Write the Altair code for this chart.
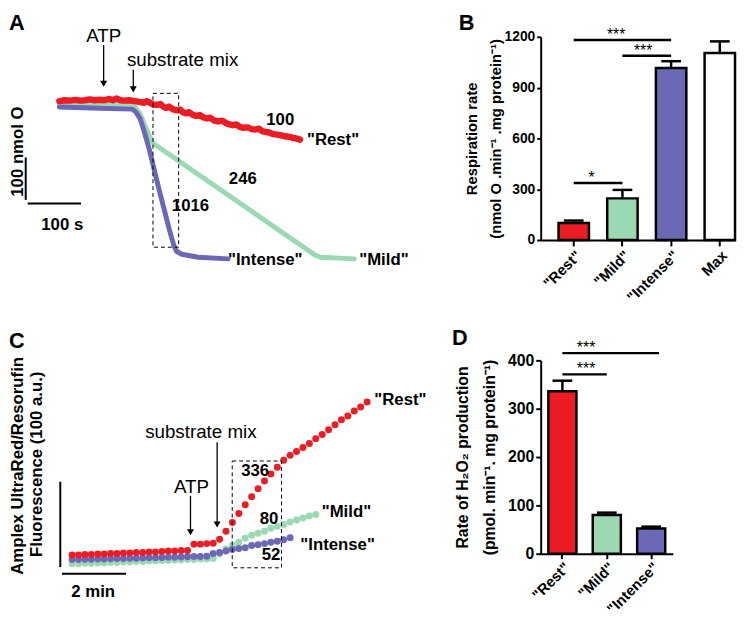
import altair as alt
import pandas as pd

FONT = "Liberation Sans"
RED = "#EC1C24"
GREEN = "#9AD9B2"
PURPLE = "#6B68B5"

# ---------------- Panel A: oxygen consumption traces (time s, O nmol) ----------------
a_rest_t = [0, 10, 20, 30, 39, 48, 57, 66, 76, 85, 94, 101, 107, 115, 122, 131, 141, 150, 159, 164,
            169, 176, 183, 190, 196, 201, 206, 213, 220, 227, 233, 238, 243, 250, 257, 264, 270, 277,
            283, 291, 298, 306, 313, 320, 326, 332, 339, 346, 354, 361, 369, 375, 381, 388, 394, 402,
            409, 417, 424, 430, 437, 444, 452]
a_rest_v = [398, 400, 399, 401, 399, 400, 402, 400, 401, 400, 403, 400, 404, 400, 399, 400, 398, 396,
            394, 398, 395, 390, 389, 391, 384, 382, 385, 379, 376, 378, 371, 369, 372, 366, 363, 365,
            360, 357, 359, 352, 350, 352, 346, 343, 341, 343, 337, 335, 336, 332, 331, 333, 327, 325,
            324, 320, 319, 317, 315, 314, 312, 310, 307]
a_mild_t = [0, 137, 144, 152, 161, 172, 178, 480, 491, 554]
a_mild_v = [393, 390, 381, 367, 340, 307, 297, 35, 30, 26]
a_int_t = [0, 76, 137, 144, 152, 159, 169, 187, 206, 215, 220, 230, 261, 317]
a_int_v = [384, 381, 379, 372, 356, 328, 284, 191, 98, 58, 44, 37, 30, 26]

# annotations of panel A (in data units)
a_lbl_text = ["100", "246", "1016"]
a_lbl_t = [414.8, 344.5, 246.3]
a_lbl_v = [341.9, 202.3, 139.5]
a_name_text = ['"Rest"', '"Intense"', '"Mild"']
a_name_t = [464.9, 316.7, 563.0]
a_name_v = [295.3, 11.6, 11.6]
a_evt_text = ["ATP", "substrate mix"]
a_evt_t = [83.3, 231.5]
a_evt_v = [537.2, 481.4]
a_arrow_t = [83.3, 138.9]
a_arrow_top = [530.2, 472.1]
a_arrow_bot = [437.2, 423.3]
a_head_v = [439.0, 425.6]
a_box = dict(t=175.9, t2=224.1, v=416.3, v2=53.5)
a_bar_t = [-63.0, -59.3]
a_bar_t2 = [-63.0, 40.7]
a_bar_v = [265.1, 156.5]
a_bar_v2 = [165.1, 156.5]

# ---------------- Panel B: respiration rate ----------------
b_cats = ['"Rest"', '"Mild"', '"Intense"', "Max"]
b_vals = [100, 246, 1016, 1105]
b_errs = [15, 50, 40, 68]
b_fill = [RED, GREEN, PURPLE, "#FFFFFF"]
b_sig_from = ['"Rest"', '"Mild"', '"Rest"']
b_sig_to = ['"Intense"', '"Intense"', '"Mild"']
b_sig_y = [1181, 1088, 337]
b_sig_lab = ["***", "***", "*"]

# ---------------- Panel C: Amplex UltraRed fluorescence (min, a.u.) ----------------
c_dt = 0.2
c_rest = [20.8, 20.8, 21.4, 21.4, 21.9, 21.9, 22.5, 22.5, 23.1, 23.1, 23.7, 23.7, 24.2, 24.2, 24.8,
          25.4, 25.4, 26.0, 26.0, 33.5, 33.5, 34.1, 34.6, 39.3, 48.5, 58.9, 69.3, 79.7, 88.9, 98.2,
          107.4, 115.5, 123.6, 131.6, 137.4, 142.0, 146.7, 151.3, 157.0, 161.7, 167.4, 173.2, 179.0,
          183.6, 189.4, 194.0, 199.8]
c_mild = [10.4, 10.4, 11.0, 11.0, 11.5, 11.5, 12.1, 12.1, 12.7, 12.7, 13.3, 13.3, 13.9, 13.9, 14.4,
          14.4, 15.0, 15.0, 15.6, 15.6, 16.2, 16.2, 16.7, 21.9, 27.7, 32.3, 35.8, 40.4, 43.9, 46.2,
          48.5, 52.0, 54.3, 56.6, 59.5, 61.8, 64.1, 66.4, 68.1]
c_int = [15.6, 15.6, 15.8, 15.9, 16.2, 16.2, 16.4, 16.6, 16.7, 17.0, 17.1, 17.3, 17.6, 17.7, 17.9,
         18.1, 18.2, 18.5, 18.7, 18.9, 19.1, 19.3, 22.5, 23.7, 25.4, 27.1, 28.3, 29.4, 31.8, 32.9,
         34.1, 35.8, 37.0, 38.7, 41.0]
c_lbl_text = ["336", "80", "52"]
c_lbl_t = [5.708, 6.144, 6.206]
c_lbl_v = [113.5, 56.9, 15.4]
c_name_text = ['"Rest"', '"Mild"', '"Intense"']
c_name_t = [9.425, 7.785, 7.117]
c_name_v = [196.3, 65.5, 26.9]
c_evt_text = ["ATP", "substrate mix"]
c_evt_t = [3.723, 4.015]
c_evt_v = [93.5, 158.2]
c_arrow_t = [3.692, 4.523]
c_arrow_top = [90.1, 152.8]
c_arrow_bot = [48.5, 57.0]
c_head_v = [47.3, 56.6]
c_box = dict(t=4.994, t2=6.532, v=130.8, v2=5.8)
c_bar_t = [-0.369, -0.317]
c_bar_t2 = [-0.369, 1.683]
c_bar_v = [106.6, -1.15]
c_bar_v2 = [6.6, -1.15]
c_title = ["Amplex UltraRed/Resorufin", "Fluorescence (100 a.u.)"]
c_title_t = [-1.68, -1.10]
c_title_v = [125.1, 127.0]

# ---------------- Panel D: H2O2 production ----------------
d_cats = ['"Rest"', '"Mild"', '"Intense"']
d_vals = [336, 80, 52]
d_errs = [22, 5, 4]
d_fill = [RED, GREEN, PURPLE]
d_sig_from = ['"Rest"', '"Rest"']
d_sig_to = ['"Intense"', '"Mild"']
d_sig_y = [415, 371]
d_sig_lab = ["***", "***"]


# ======================= helpers =======================
def tx(df, sx, sy, **kw):
    return alt.Chart(df).mark_text(color="black", **kw).encode(
        x=alt.X("t:Q", scale=sx, axis=None), y=alt.Y("v:Q", scale=sy, axis=None), text="label:N")


def rules(df, sx, sy, w):
    return alt.Chart(df).mark_rule(color="black", strokeWidth=w).encode(
        x=alt.X("t:Q", scale=sx, axis=None), x2="t2:Q",
        y=alt.Y("v:Q", scale=sy, axis=None), y2="v2:Q")


def heads(df, sx, sy):
    return alt.Chart(df).mark_point(shape="triangle-down", filled=True, color="black",
                                    opacity=1, size=50).encode(
        x=alt.X("t:Q", scale=sx, axis=None), y=alt.Y("v:Q", scale=sy, axis=None))


def box(d, sx, sy):
    return alt.Chart(pd.DataFrame([d])).mark_rect(fillOpacity=0, stroke="black", strokeWidth=1,
                                                  strokeDash=[4, 3]).encode(
        x=alt.X("t:Q", scale=sx, axis=None), x2="t2:Q",
        y=alt.Y("v:Q", scale=sy, axis=None), y2="v2:Q")


# ======================= Panel A =======================
sxA = alt.Scale(domain=[-94.4, 600], nice=False, zero=False)
syA = alt.Scale(domain=[70.5, 549.5], nice=False, zero=False)


def lineA(t, v, color, w):
    return alt.Chart(pd.DataFrame({"t": t, "v": v})).mark_line(
        color=color, strokeWidth=w, strokeJoin="round", strokeCap="round").encode(
        x=alt.X("t:Q", scale=sxA, axis=None), y=alt.Y("v:Q", scale=syA, axis=None))


A = alt.layer(
    lineA(a_mild_t, a_mild_v, GREEN, 5),
    lineA(a_int_t, a_int_v, PURPLE, 5),
    lineA(a_rest_t, a_rest_v, RED, 6.5),
    box(a_box, sxA, syA),
    rules(pd.DataFrame({"t": a_arrow_t, "t2": a_arrow_t, "v": a_arrow_top, "v2": a_arrow_bot}), sxA, syA, 1.3),
    heads(pd.DataFrame({"t": a_arrow_t, "v": a_head_v}), sxA, syA),
    rules(pd.DataFrame({"t": a_bar_t, "t2": a_bar_t2, "v": a_bar_v, "v2": a_bar_v2}), sxA, syA, 2),
    tx(pd.DataFrame({"t": a_evt_t, "v": a_evt_v, "label": a_evt_text}), sxA, syA,
       fontSize=19, align="center", baseline="alphabetic"),
    tx(pd.DataFrame({"t": a_lbl_t, "v": a_lbl_v, "label": a_lbl_text}), sxA, syA,
       fontSize=17, fontWeight="bold", align="center", baseline="alphabetic"),
    tx(pd.DataFrame({"t": a_name_t, "v": a_name_v, "label": a_name_text}), sxA, syA,
       fontSize=17, fontWeight="bold", align="left", baseline="alphabetic"),
    tx(pd.DataFrame({"t": [5.6], "v": [93.0], "label": ["100 s"]}), sxA, syA,
       fontSize=17, fontWeight="bold", align="center", baseline="alphabetic"),
    tx(pd.DataFrame({"t": [-77.8], "v": [279.0], "label": ["100 nmol O"]}), sxA, syA,
       fontSize=17, fontWeight="bold", align="center", baseline="middle", angle=270),
    tx(pd.DataFrame({"t": [-94.4], "v": [604.7], "label": ["A"]}), sxA, syA,
       fontSize=22, fontWeight="bold", align="left", baseline="top"),
).properties(width=375, height=206)


# ======================= bar panels =======================
def y_axis(title, values, lsize, tsize, tpad, tlh, tick):
    return alt.Axis(title=title, values=values, format="d", grid=False, domainColor="black",
                    domainWidth=2, tickColor="black", tickWidth=2, tickSize=tick,
                    labelFontSize=lsize, labelFontWeight="bold", labelColor="black",
                    labelPadding=2, titleFontSize=tsize, titleFontWeight="bold",
                    titleColor="black", titlePadding=tpad, titleLineHeight=tlh)


def x_axis(lsize, lpad, tick):
    return alt.Axis(title="", labelAngle=-45, labelFontSize=lsize, labelFontWeight="bold",
                    labelColor="black", domainColor="black", domainWidth=2, tickColor="black",
                    tickWidth=2, tickSize=tick, labelPadding=lpad)


def bar_panel(cats, vals, errs, fills, sig_from, sig_to, sig_y, sig_lab, sig_dx, sig_x2off,
              xscale, ydomain, yax, xax, letter, letter_y, letter_x, w, h):
    sx = xscale
    sy = alt.Scale(domain=ydomain, nice=False, zero=True)

    def X(f):
        return alt.X(f"{f}:N", scale=sx, axis=xax, sort=cats)

    def Y(f):
        return alt.Y(f"{f}:Q", scale=sy, axis=yax)

    df = pd.DataFrame({"cat": cats, "val": vals, "err": errs})
    df["hi"] = df["val"] + df["err"]
    bars = alt.Chart(df).mark_bar(stroke="black", strokeWidth=2.5).encode(
        x=X("cat"), y=Y("val"),
        fill=alt.Fill("cat:N", scale=alt.Scale(domain=cats, range=fills), legend=None))
    err = alt.Chart(df).mark_rule(color="black", strokeWidth=2.5).encode(
        x=X("cat"), y=Y("hi"), y2="val:Q")
    cap = alt.Chart(df).mark_tick(color="black", thickness=2.5, size=20, opacity=1).encode(
        x=X("cat"), y=Y("hi"))
    layers = [err, cap, bars]
    for i in range(len(sig_from)):
        dsig = pd.DataFrame({"cat": [sig_from[i]], "to": [sig_to[i]], "val": [sig_y[i]],
                             "label": [sig_lab[i]]})
        layers.append(alt.Chart(dsig).mark_rule(color="black", strokeWidth=2.5,
                                                x2Offset=sig_x2off[i]).encode(
            x=X("cat"), x2=alt.X2("to:N"), y=Y("val")))
        layers.append(alt.Chart(dsig).mark_text(color="black", fontSize=16, dx=sig_dx[i], dy=0,
                                                baseline="alphabetic").encode(
            x=X("cat"), y=Y("val"), text="label:N"))
    dl = pd.DataFrame({"val": [letter_y], "label": [letter]})
    layers.append(alt.Chart(dl).mark_text(color="black", fontSize=22, fontWeight="bold",
                                          align="left", baseline="top").encode(
        x=alt.value(letter_x), y=Y("val"), text="label:N"))
    return alt.layer(*layers).properties(width=w, height=h)


B = bar_panel(b_cats, b_vals, b_errs, b_fill, b_sig_from, b_sig_to, b_sig_y, b_sig_lab,
              [43, 21, 18], [0, 0, 0],
              alt.Scale(domain=b_cats, paddingInner=0.375, paddingOuter=0.183, align=1),
              [0, 1200],
              y_axis(["Respiration rate", "(nmol O .min⁻¹ .mg protein⁻¹)"],
                     [0, 300, 600, 900, 1200], 14, 15, 1, 24, 4),
              x_axis(15, 2, 6),
              "B", 1338, -83, 197, 206)

D = bar_panel(d_cats, d_vals, d_errs, d_fill, d_sig_from, d_sig_to, d_sig_y, d_sig_lab,
              [24, 24], [8, 0],
              alt.Scale(domain=d_cats, paddingInner=0.367, paddingOuter=0.172),
              [0, 400],
              y_axis(["Rate of H₂O₂ production", "(pmol. min⁻¹. mg protein⁻¹)"],
                     [0, 100, 200, 300, 400], 16, 16, 10, 28, 5),
              x_axis(15, 1, 5),
              "D", 467, -90, 134, 196)

# ======================= Panel C =======================
sxC = alt.Scale(domain=[-1.969, 9.775], nice=False, zero=False)
syC = alt.Scale(domain=[-40.07, 248.6], nice=False, zero=False)


def dotsC(vals, color):
    df = pd.DataFrame({"t": [round(i * c_dt, 2) for i in range(len(vals))], "v": vals})
    return alt.Chart(df).mark_circle(color=color, size=50, opacity=1).encode(
        x=alt.X("t:Q", scale=sxC, axis=None), y=alt.Y("v:Q", scale=syC, axis=None))


C = alt.layer(
    dotsC(c_mild, GREEN),
    dotsC(c_int, PURPLE),
    dotsC(c_rest, RED),
    box(c_box, sxC, syC),
    rules(pd.DataFrame({"t": c_arrow_t, "t2": c_arrow_t, "v": c_arrow_top, "v2": c_arrow_bot}), sxC, syC, 1.3),
    heads(pd.DataFrame({"t": c_arrow_t, "v": c_head_v}), sxC, syC),
    rules(pd.DataFrame({"t": c_bar_t, "t2": c_bar_t2, "v": c_bar_v, "v2": c_bar_v2}), sxC, syC, 2),
    tx(pd.DataFrame({"t": c_evt_t, "v": c_evt_v, "label": c_evt_text}), sxC, syC,
       fontSize=19, align="center", baseline="alphabetic"),
    tx(pd.DataFrame({"t": c_lbl_t, "v": c_lbl_v, "label": c_lbl_text}), sxC, syC,
       fontSize=17, fontWeight="bold", align="center", baseline="alphabetic"),
    tx(pd.DataFrame({"t": c_name_t, "v": c_name_v, "label": c_name_text}), sxC, syC,
       fontSize=17, fontWeight="bold", align="left", baseline="alphabetic"),
    tx(pd.DataFrame({"t": [0.657], "v": [-28.2], "label": ["2 min"]}), sxC, syC,
       fontSize=17, fontWeight="bold", align="center", baseline="alphabetic"),
    tx(pd.DataFrame({"t": c_title_t, "v": c_title_v, "label": c_title}), sxC, syC,
       fontSize=17, fontWeight="bold", align="center", baseline="middle", angle=270),
    tx(pd.DataFrame({"t": [-1.969], "v": [282.9], "label": ["C"]}), sxC, syC,
       fontSize=22, fontWeight="bold", align="left", baseline="top"),
).properties(width=381.7, height=250)

chart = alt.concat(A, B, C, D, columns=2, spacing={"row": 122, "column": 157},
                   bounds="flush", align="none").properties(
    padding={"left": 0, "top": 0, "right": 0, "bottom": 0}
).configure(font=FONT).configure_view(strokeWidth=0)

chart.save("out.html", embed_options={"renderer": "svg", "actions": False})
